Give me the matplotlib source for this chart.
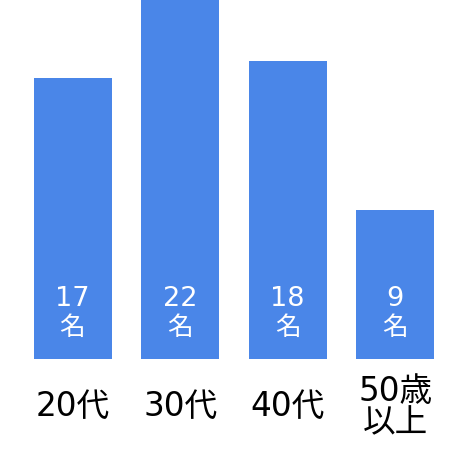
import matplotlib
matplotlib.use("Agg")
from matplotlib import pyplot as plt

# DejaVu for the digits (wide, like the original), Noto CJK for kanji
plt.rcParams["font.family"] = ["DejaVu Sans", "Noto Sans CJK JP"]

categories = ["20代", "30代", "40代", "50歳\n以上"]
counts = [17, 22, 18, 9]
BAR_COLOR = "#4a86e8"

fig = plt.figure(figsize=(4.68, 4.58), dpi=100)
ax = fig.add_axes([0, 0.2162, 1, 0.7838])
positions = list(range(len(counts)))
ax.bar(positions, counts, width=0.725, color=BAR_COLOR)
ax.set_xlim(-0.674, 3.676)
ax.set_ylim(0, 21.7)
ax.axis("off")

for pos, count, label in zip(positions, counts, categories):
    # value labels inside the bar, near its base
    ax.annotate(str(count), xy=(pos, 0), xytext=(0, 43), textcoords="offset points",
                ha="center", va="center", color="white", fontsize=19.5)
    ax.annotate("名", xy=(pos, 0), xytext=(0, 22.3), textcoords="offset points",
                ha="center", va="center", color="white", fontsize=18.5)
    ax.annotate(label, xy=(pos, 0), xytext=(0, -34.5), textcoords="offset points",
                ha="center", va="center", color="black", fontsize=23.5,
                linespacing=0.95, annotation_clip=False)

fig.savefig("out.png", dpi=100)
plt.close(fig)
